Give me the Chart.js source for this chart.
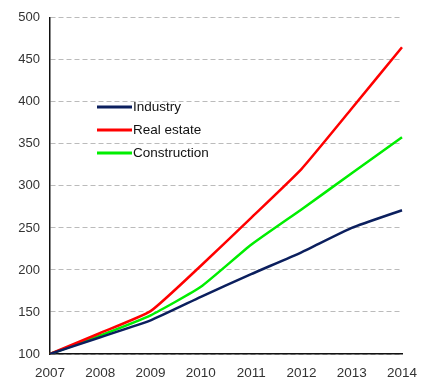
<!DOCTYPE html>
<html lang="en">
<head>
    <meta charset="UTF-8">
    <title>Growth index</title>
    <script src="https://cdn.jsdelivr.net/npm/chart.js"></script>
    <style>
        body { margin: 0; padding: 0; background: #fff; }
        #wrap { width: 421px; height: 378px; position: relative; }
    </style>
</head>
<body>
<div id="wrap"><canvas id="myChart"></canvas></div>
<script>
    const years = ['2007', '2008', '2009', '2010', '2011', '2012', '2013', '2014'];
    const industry = [100, 120, 140, 168, 195, 221, 250, 271];
    const realEstate = [100, 125, 151, 205, 262, 320, 392, 465];
    const construction = [100, 122, 146, 180, 230, 272, 315, 358];

    // legend drawn inside the plot, like the original
    const innerLegend = {
        id: 'innerLegend',
        afterDraw(chart) {
            const ctx = chart.ctx;
            ctx.save();
            ctx.font = '13.5px "Liberation Sans", Arial, sans-serif';
            ctx.textBaseline = 'middle';
            chart.data.datasets.forEach((ds, i) => {
                const y = 107 + i * 23;
                ctx.strokeStyle = ds.borderColor;
                ctx.lineWidth = 3;
                ctx.beginPath();
                ctx.moveTo(97, y);
                ctx.lineTo(132, y);
                ctx.stroke();
                ctx.fillStyle = '#111';
                ctx.fillText(ds.label, 133, y);
            });
            ctx.restore();
        }
    };

    const data = {
        labels: years,
        datasets: [
            { label: 'Industry', data: industry, borderColor: '#0b1f5e' },
            { label: 'Real estate', data: realEstate, borderColor: '#ff0000' },
            { label: 'Construction', data: construction, borderColor: '#00ee00' }
        ]
    };

    const config = {
        type: 'line',
        data: data,
        options: {
            responsive: true,
            maintainAspectRatio: false,
            animation: false,
            layout: { padding: { top: 15, right: 19, left: 0, bottom: 0 } },
            elements: {
                line: { borderWidth: 2.5, tension: 0.15 },
                point: { radius: 0 }
            },
            plugins: { legend: { display: false }, tooltip: { enabled: false } },
            scales: {
                x: {
                    offset: false,
                    afterFit: s => { s.height = 24; },
                    grid: { display: false },
                    border: { color: '#111', width: 1.5 },
                    ticks: { color: '#333', font: { family: 'Liberation Sans', size: 13.5 }, maxRotation: 0, padding: 3 }
                },
                y: {
                    min: 100,
                    max: 500,
                    afterFit: s => { s.width = 50; },
                    grid: { color: '#bbbbbb', drawTicks: false, lineWidth: 1 },
                    border: { color: '#111', width: 1.5, dash: [5, 3] },
                    ticks: { stepSize: 50, color: '#333', font: { family: 'Liberation Sans', size: 13 }, padding: 10 }
                }
            }
        },
        plugins: [innerLegend]
    };

    new Chart(document.getElementById('myChart'), config);
</script>
</body>
</html>
